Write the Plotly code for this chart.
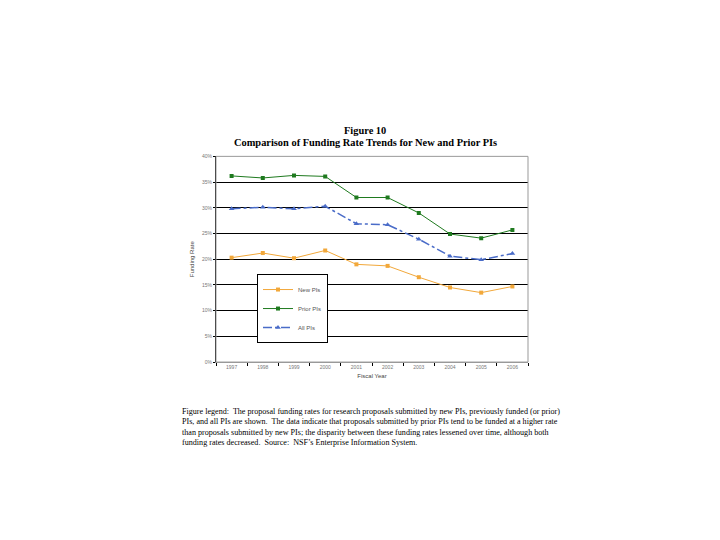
import plotly.graph_objects as go

years = ["1997", "1998", "1999", "2000", "2001", "2002", "2003", "2004", "2005", "2006"]
new_pis = [20.3, 21.2, 20.2, 21.7, 19.0, 18.7, 16.5, 14.5, 13.5, 14.7]
prior_pis = [36.2, 35.8, 36.3, 36.1, 32.0, 32.0, 29.0, 24.9, 24.1, 25.7]
all_pis = [29.8, 30.1, 29.8, 30.3, 26.9, 26.7, 23.9, 20.6, 19.9, 21.1]
y_ticks = [0, 5, 10, 15, 20, 25, 30, 35, 40]

caption_lines = [
    "Figure legend:  The proposal funding rates for research proposals submitted by new PIs, previously funded (or prior)",
    "PIs, and all PIs are shown.  The data indicate that proposals submitted by prior PIs tend to be funded at a higher rate",
    "than proposals submitted by new PIs; the disparity between these funding rates lessened over time, although both",
    "funding rates decreased.  Source:  NSF\u2019s Enterprise Information System.",
]

OFF = 8  # page body margin


def px(x):
    return (x - OFF) / 720


def py(y):
    return 1 - (y - OFF) / 540


xi = list(range(len(years)))

fig = go.Figure()
fig.add_trace(go.Scatter(x=xi, y=new_pis, name="New PIs", mode="lines+markers",
                         line=dict(color="#F2A83A", width=1),
                         marker=dict(symbol="square", size=4, color="#F2A83A")))
fig.add_trace(go.Scatter(x=xi, y=prior_pis, name="Prior PIs", mode="lines+markers",
                         line=dict(color="#1F7A1F", width=1),
                         marker=dict(symbol="square", size=4, color="#1F7A1F")))
fig.add_trace(go.Scatter(x=xi, y=all_pis, name="All PIs", mode="lines+markers",
                         line=dict(color="#4A6CC8", width=1.5, dash="dashdot"),
                         marker=dict(symbol="triangle-up", size=5, color="#4A6CC8")))

fig.update_layout(
    width=720, height=540,
    margin=dict(l=0, r=0, t=0, b=0),
    paper_bgcolor="white", plot_bgcolor="white",
    font=dict(family="Liberation Sans, Arial", size=6, color="#666666"),
    showlegend=True,
    legend=dict(x=px(257), y=py(274), xanchor="left", yanchor="top",
                bordercolor="black", borderwidth=1, bgcolor="white",
                font=dict(size=6, color="#555555"), itemwidth=30,
                tracegroupgap=0),
    xaxis=dict(domain=[px(216), px(528)], range=[-0.5, 9.5],
               tickmode="array", tickvals=xi, ticktext=years,
               ticks="", showgrid=False, zeroline=False,
               showline=True, linecolor="#999999", linewidth=1,
               tickfont=dict(size=5, color="#777777"),
               minor=dict(tickmode="array", tickvals=[i + 0.5 for i in xi[:-1]] + [-0.5, 9.5],
                          ticks="outside", ticklen=3, tickcolor="black", showgrid=False),
               title=dict(text="Fiscal Year", font=dict(size=6, color="#444444"), standoff=4)),
    yaxis=dict(domain=[py(363), py(155)], range=[0, 40],
               tickmode="array", tickvals=y_ticks,
               ticktext=[f"{v}%" for v in y_ticks],
               showgrid=True, gridcolor="black", gridwidth=1,
               zeroline=False, showline=True, linecolor="black", linewidth=1,
               ticks="outside", ticklen=2, tickcolor="black",
               tickfont=dict(size=5, color="#777777"),
               title=dict(text="Funding Rate", font=dict(size=6, color="#444444"), standoff=6)),
)

# plot frame (top/right)
fig.add_shape(type="rect", xref="x domain", yref="y domain", x0=0, x1=1, y0=0, y1=1,
              line=dict(color="#999999", width=1), layer="above")

fig.add_annotation(text="<b>Figure 10</b>", xref="paper", yref="paper",
                   x=px(365), y=py(129), xanchor="center", yanchor="middle", showarrow=False,
                   font=dict(family="Liberation Serif", size=10.4, color="black"))
fig.add_annotation(text="<b>Comparison of Funding Rate Trends for New and Prior PIs</b>",
                   xref="paper", yref="paper", x=px(365), y=py(141),
                   xanchor="center", yanchor="middle", showarrow=False,
                   font=dict(family="Liberation Serif", size=10.4, color="black"))

for i, line in enumerate(caption_lines):
    fig.add_annotation(text=line, xref="paper", yref="paper",
                       x=px(180), y=py(413 + i * 10.6), xanchor="left", yanchor="middle",
                       showarrow=False, align="left",
                       font=dict(family="Liberation Serif", size=8.1, color="black"))

fig.write_html("out.html")
